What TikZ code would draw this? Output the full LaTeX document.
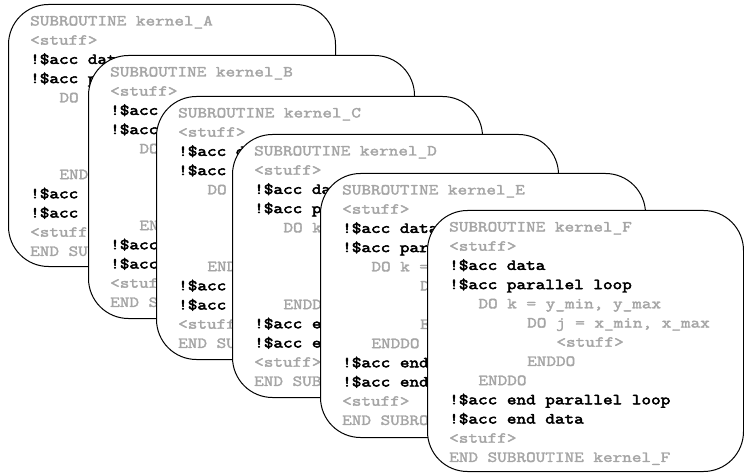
\documentclass[tikz,border=0pt]{standalone}
\usepackage{fontspec}
\newfontfamily\codeg[FakeStretch=1.22, FakeBold=2.2]{Latin Modern Mono}
\newfontfamily\codeb[FakeStretch=1.22, FakeBold=3.2]{Latin Modern Mono}
\definecolor{codegray}{RGB}{165,165,165}
\tikzset{
  kbox/.style={draw=black, line width=1pt, fill=white, rounded corners=40pt, inner sep=0pt, anchor=north west},
  gl/.style={anchor=base west, inner sep=0pt, font=\codeg\fontsize{15.3}{19}\selectfont, text=codegray},
  bl/.style={anchor=base west, inner sep=0pt, font=\codeb\fontsize{15.3}{19}\selectfont, text=black},
}
% #1 letter, #2 left, #3 top, #4 right, #5 bottom
\newcommand\kernbox[5]{%
  \node[kbox, minimum width={(#4-#2)*1pt}, minimum height={(#5-#3)*1pt}] (b#1) at (#2,-#3) {};
  \coordinate (o#1) at ({#2+22},{-#3-21.5});}
% box letter, line number, indent chars, style, visible text
\newcommand\codeline[5]{%
  \node[#4] (#1l#2) at ([shift={({#3*9.75},{-(#2-1)*19.2})}]o#1) {#5};}
\begin{document}
\begin{tikzpicture}[x=1pt,y=1pt]
  \useasboundingbox (0,0) rectangle (744,-473);
  % ---- A
  \kernbox{A}{8}{4}{335}{266}
  \codeline{A}{1}{0}{gl}{SUBROUTINE kernel\_A}
  \codeline{A}{2}{0}{gl}{<stuff>}
  \codeline{A}{3}{0}{bl}{!\$acc dat}
  \codeline{A}{4}{0}{bl}{!\$acc p}
  \codeline{A}{5}{3}{gl}{DO}
  \codeline{A}{9}{3}{gl}{END}
  \codeline{A}{10}{0}{bl}{!\$acc}
  \codeline{A}{11}{0}{bl}{!\$acc}
  \codeline{A}{12}{0}{gl}{<stuff}
  \codeline{A}{13}{0}{gl}{END SU}
  % ---- B
  \kernbox{B}{88}{55}{414}{318}
  \codeline{B}{1}{0}{gl}{SUBROUTINE kernel\_B}
  \codeline{B}{2}{0}{gl}{<stuff>}
  \codeline{B}{3}{0}{bl}{!\$acc d}
  \codeline{B}{4}{0}{bl}{!\$acc}
  \codeline{B}{5}{3}{gl}{DO}
  \codeline{B}{9}{3}{gl}{EN}
  \codeline{B}{10}{0}{bl}{!\$acc}
  \codeline{B}{11}{0}{bl}{!\$acc}
  \codeline{B}{12}{0}{gl}{<stuf}
  \codeline{B}{13}{0}{gl}{END S}
  % ---- C
  \kernbox{C}{156}{96}{482}{359}
  \codeline{C}{1}{0}{gl}{SUBROUTINE kernel\_C}
  \codeline{C}{2}{0}{gl}{<stuff>}
  \codeline{C}{3}{0}{bl}{!\$acc d}
  \codeline{C}{4}{0}{bl}{!\$acc}
  \codeline{C}{5}{3}{gl}{DO}
  \codeline{C}{9}{3}{gl}{END}
  \codeline{C}{10}{0}{bl}{!\$acc}
  \codeline{C}{11}{0}{bl}{!\$acc}
  \codeline{C}{12}{0}{gl}{<stuff}
  \codeline{C}{13}{0}{gl}{END SU}
  % ---- D
  \kernbox{D}{232}{134}{558}{397}
  \codeline{D}{1}{0}{gl}{SUBROUTINE kernel\_D}
  \codeline{D}{2}{0}{gl}{<stuff>}
  \codeline{D}{3}{0}{bl}{!\$acc da}
  \codeline{D}{4}{0}{bl}{!\$acc p}
  \codeline{D}{5}{3}{gl}{DO k}
  \codeline{D}{9}{3}{gl}{ENDD}
  \codeline{D}{10}{0}{bl}{!\$acc e}
  \codeline{D}{11}{0}{bl}{!\$acc e}
  \codeline{D}{12}{0}{gl}{<stuff>}
  \codeline{D}{13}{0}{gl}{END SUB}
  % ---- E
  \kernbox{E}{320}{173}{645}{437}
  \codeline{E}{1}{0}{gl}{SUBROUTINE kernel\_E}
  \codeline{E}{2}{0}{gl}{<stuff>}
  \codeline{E}{3}{0}{bl}{!\$acc data}
  \codeline{E}{4}{0}{bl}{!\$acc par}
  \codeline{E}{5}{3}{gl}{DO k =}
  \codeline{E}{6}{8}{gl}{D}
  \codeline{E}{8}{8}{gl}{E}
  \codeline{E}{9}{3}{gl}{ENDDO}
  \codeline{E}{10}{0}{bl}{!\$acc end}
  \codeline{E}{11}{0}{bl}{!\$acc end}
  \codeline{E}{12}{0}{gl}{<stuff>}
  \codeline{E}{13}{0}{gl}{END SUBRO}
  % ---- F
  \kernbox{F}{427}{210}{743}{471}
  \codeline{F}{1}{0}{gl}{SUBROUTINE kernel\_F}
  \codeline{F}{2}{0}{gl}{<stuff>}
  \codeline{F}{3}{0}{bl}{!\$acc data}
  \codeline{F}{4}{0}{bl}{!\$acc parallel loop}
  \codeline{F}{5}{3}{gl}{DO k = y\_min, y\_max}
  \codeline{F}{6}{8}{gl}{DO j = x\_min, x\_max}
  \codeline{F}{7}{11}{gl}{<stuff>}
  \codeline{F}{8}{8}{gl}{ENDDO}
  \codeline{F}{9}{3}{gl}{ENDDO}
  \codeline{F}{10}{0}{bl}{!\$acc end parallel loop}
  \codeline{F}{11}{0}{bl}{!\$acc end data}
  \codeline{F}{12}{0}{gl}{<stuff>}
  \codeline{F}{13}{0}{gl}{END SUBROUTINE kernel\_F}
\end{tikzpicture}
\end{document}
